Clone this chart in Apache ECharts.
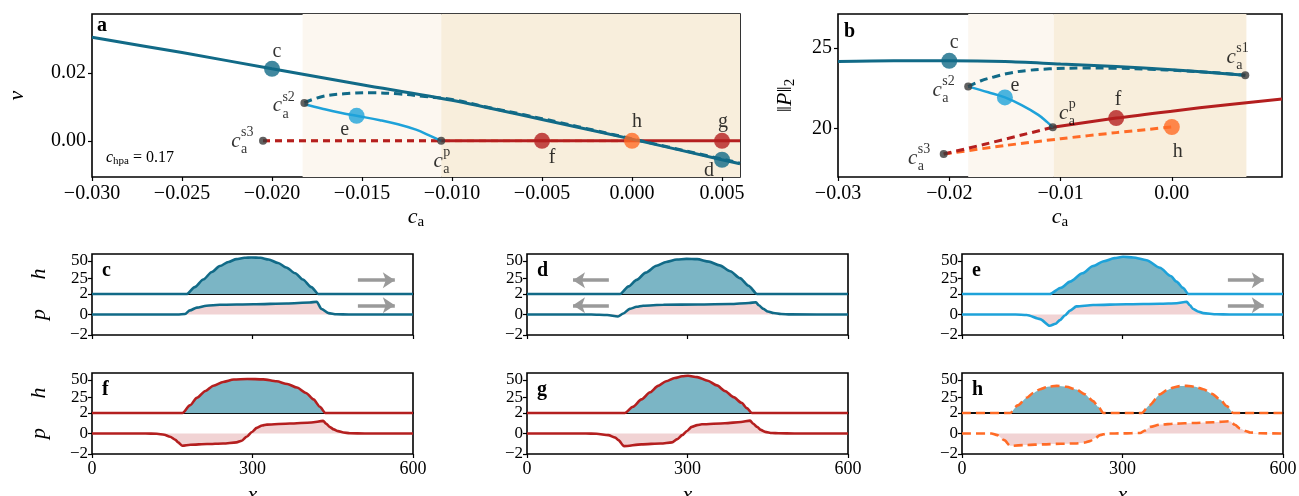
<!DOCTYPE html>
<html>
<head>
<meta charset="utf-8">
<script src="https://cdn.jsdelivr.net/npm/echarts@6/dist/echarts.min.js"></script>
<style>
  html, body { margin: 0; padding: 0; background: #fff; }
  #main { width: 1299px; height: 496px; }
</style>
</head>
<body>
<div id="main"></div>
<script>
// 字体与配色
const SERIF = '"Liberation Serif", "DejaVu Serif", serif';
const TEAL = '#116a87', LBLUE = '#1ea2d9', RED = '#b41f1f', ORANGE = '#ff6b26', DOT = '#3a3a3a';
const FILL_H = '#7bb5c5', FILL_P = '#f1d3d4', SHADE_L = '#fcf7f0', SHADE_D = '#f8eedc', ARROW = '#9a9a9a';

// ---- 图 a：v 随 c_a 的分岔 ----
const aMainCa = [-0.030, -0.025, -0.020, -0.015, -0.010, -0.005, 0.000, 0.005, 0.006];
const aMainV = [0.0306, 0.0261, 0.0213, 0.0166, 0.0120, 0.0063, 0.0005, -0.0056, -0.0068];
const aDashCa = [-0.0182, -0.0172, -0.016, -0.0145, -0.013, -0.0115, -0.010, -0.008, -0.006, -0.004, -0.002, 0.000, 0.002, 0.004, 0.006];
const aDashV = [0.0113, 0.0131, 0.0139, 0.0142, 0.0139, 0.0131, 0.0122, 0.0099, 0.0077, 0.0054, 0.0030, 0.0006, -0.0018, -0.0042, -0.0066];
const aECa = [-0.0182, -0.0172, -0.0162, -0.0153, -0.014, -0.013, -0.012, -0.0113, -0.0106];
const aEV = [0.0108, 0.0095, 0.0083, 0.0074, 0.0061, 0.0049, 0.0033, 0.0017, 0.0];
const aRedDashCa = [-0.0205, -0.0106];
const aRedCa = [-0.0106, 0.006];
const aOrangeCa = [-0.0205, 0.0];

// ---- 图 b：||P||_2 随 c_a ----
const bMainCa = [-0.03, -0.025, -0.02, -0.015, -0.01, -0.005, 0.0, 0.004, 0.0066];
const bMainP = [24.15, 24.2, 24.2, 24.15, 24.0, 23.85, 23.65, 23.45, 23.3];
const bDashCa = [-0.0183, -0.0172, -0.016, -0.0145, -0.013, -0.011, -0.008, -0.005, -0.002, 0.001, 0.004, 0.0066];
const bDashP = [22.6, 22.95, 23.2, 23.45, 23.6, 23.7, 23.75, 23.74, 23.68, 23.58, 23.46, 23.3];
const bECa = [-0.0183, -0.0165, -0.015, -0.0135, -0.012, -0.0112, -0.0107];
const bEP = [22.6, 22.25, 21.93, 21.45, 20.85, 20.4, 20.08];
const bRedCa = [-0.0107, -0.005, 0.0, 0.005, 0.0099];
const bRedP = [20.08, 20.65, 21.08, 21.48, 21.83];
const bRedDashCa = [-0.0205, -0.017, -0.0135, -0.0107];
const bRedDashP = [18.42, 19.0, 19.6, 20.08];
const bOrangeCa = [-0.0205, -0.015, -0.01, -0.005, 0.0];
const bOrangeP = [18.42, 18.95, 19.37, 19.75, 20.1];

// 阴影区边界 (c_a)
const shadeEdges = [-0.0183, -0.0106, 0.0067];

// 特殊点
const ptsA = { s3: [-0.0205, 0], s2: [-0.0182, 0.0112], p: [-0.0106, 0],
  c: [-0.020, 0.0213], e: [-0.0153, 0.0074], f: [-0.005, 0], h: [0.0, 0], g: [0.005, 0], d: [0.005, -0.0056] };
const ptsB = { s1: [0.0066, 23.3], s2: [-0.0183, 22.6], p: [-0.0107, 20.08], s3: [-0.0205, 18.42],
  c: [-0.020, 24.2], e: [-0.015, 21.93], f: [-0.005, 20.65], h: [0.0, 20.1] };

// ---- 小图：h(x) 与 p(x) 剖面 ----
const cH = [[0,2],[177,2],[192,12],[208,23],[224,34],[239,42.5],[255,48.5],[270,52.5],[285,54.5],[298,55],[315,54.5],[330,52],[348,47],[363,40.5],[380,32],[394,23],[410,12],[423,2],[600,2]];
const cP = [[0,0],[160,0],[174,0.05],[183,0.4],[196,0.67],[214,0.86],[239,0.95],[302,1.0],[364,1.08],[407,1.17],[420,1.24],[429,0.54],[442,0.13],[457,0.02],[480,0],[600,0]];
const dH = [[0,2],[174,2],[190,13],[205,22.5],[222,33],[242,43],[260,48.5],[280,52],[298,53],[318,52.5],[340,49],[360,43.5],[380,35],[398,25],[414,14],[430,2],[600,2]];
const dP = [[0,0],[120,0],[150,-0.05],[170,-0.2],[180,0.1],[192,0.55],[205,0.75],[217,0.86],[255,0.95],[320,0.98],[380,1.02],[415,1.12],[428,1.2],[433,0.9],[442,0.55],[450,0.3],[461,0.15],[475,0.05],[492,0.01],[600,0]];
const eH = [[0,2],[164,2],[185,11],[202,20],[225,32],[245,42.5],[265,49.5],[285,54],[301,56],[320,55],[345,51],[370,40],[390,28],[401,20],[413,11],[423,2],[600,2]];
const eP = [[0,0],[100,0],[121,-0.05],[146,-0.45],[164,-1.1],[175,-0.9],[183,-0.55],[192,-0.1],[202,0.38],[214,0.79],[245,0.92],[307,1.0],[370,1.05],[401,1.1],[420,1.24],[426,0.9],[432,0.54],[441,0.3],[451,0.13],[476,0.02],[500,0],[600,0]];
const fH = [[0,2],[169,2],[183,13],[196,24],[212,34],[227,41.5],[245,47],[265,50.5],[290,51.3],[320,50.8],[345,48],[365,44],[383,39],[400,31],[414,21.7],[426,11],[436,2],[600,2]];
const fP = [[0,0],[100,0],[121,-0.03],[135,-0.12],[146,-0.32],[156,-0.62],[161,-0.87],[169,-1.2],[184,-1.1],[215,-1.03],[245,-0.97],[270,-0.87],[280,-0.7],[289,-0.32],[299,0.15],[308,0.55],[318,0.78],[327,0.87],[370,0.97],[410,1.08],[432,1.23],[438,0.95],[444,0.65],[452,0.4],[460,0.23],[470,0.1],[482,0.02],[510,0],[600,0]];
const gH = [[0,2],[183,2],[198,11],[214,21.7],[230,32],[245,41.4],[260,48],[276,52.8],[290,55.2],[301,56],[318,54],[338,48.8],[355,42],[370,34],[386,25],[401,16.8],[411,9],[420,2],[600,2]];
const gP = [[0,0],[110,0],[130,-0.03],[152,-0.16],[165,-0.4],[171,-0.65],[181,-1.23],[214,-1.06],[250,-0.97],[271,-0.87],[281,-0.55],[290,-0.16],[299,0.25],[308,0.65],[318,0.82],[327,0.9],[370,1.0],[400,1.12],[417,1.26],[423,0.95],[430,0.65],[437,0.35],[445,0.16],[458,0.05],[470,0.02],[500,0],[600,0]];
const hH = [[0,2],[90,2],[104,13],[121,24.2],[133,31],[146,36.5],[160,40],[177,41.4],[195,40],[214,36],[230,29],[245,19.2],[255,11],[264,2],[336,2],[350,13],[370,29],[383,35],[395,38.8],[407,41],[420,41.4],[436,40],[451,36.5],[467,30],[482,21.7],[495,12],[507,2],[600,2]];
const hP = [[0,0],[55,0],[66,-0.16],[79,-0.65],[90,-1.2],[120,-1.12],[152,-1.06],[185,-1.0],[214,-0.97],[230,-0.88],[239,-0.74],[249,-0.45],[258,-0.16],[271,0],[300,0.01],[333,0.05],[342,0.3],[352,0.65],[370,0.87],[400,0.96],[433,1.03],[470,1.1],[501,1.2],[510,0.85],[520,0.48],[530,0.25],[539,0.1],[558,0.02],[600,0]];

// 移动方向箭头: [x起点, x终点, h高度, p高度]
const arrowC = [497, 566, 22, 0.9];
const arrowD = [153, 86, 22, 0.9];
const arrowE = [497, 564, 22, 0.9];

const zip = (xs, ys) => xs.map((x, i) => [x, ys[i]]);
const flat = (xs, v) => xs.map(x => [x, v]);
const minus = s => s.replace('-', '\u2212');

const RICH = {
  it: { fontFamily: SERIF, fontStyle: 'italic', fontSize: 21, color: '#000' },
  sm: { fontFamily: SERIF, fontSize: 14, color: '#000' },
  rm: { fontFamily: SERIF, fontSize: 20, color: '#000' }
};

const grid = [], xAxis = [], yAxis = [], series = [], graphic = [];

function addGrid(g) {
  // v6 默认会把网格缩进以容纳标签，这里关掉，按像素摆放
  grid.push(Object.assign({ show: true, borderColor: '#000', borderWidth: 1.6, backgroundColor: 'transparent',
    containLabel: false, outerBoundsMode: 'none' }, g));
  return grid.length - 1;
}

function axis(gi, o) {
  return {
    gridIndex: gi, type: 'value', min: o.min, max: o.max, interval: o.interval,
    axisLine: { show: false, onZero: false },
    axisTick: { show: o.tick !== false, length: 4, lineStyle: { color: '#000', width: 1.2 }, customValues: o.custom },
    axisLabel: { show: o.label !== false, color: '#000', fontFamily: SERIF, fontSize: o.fs || 20, margin: o.margin || 6,
      formatter: o.fmt, customValues: o.custom, hideOverlap: false },
    splitLine: { show: false },
    name: o.name || '', nameLocation: 'middle', nameGap: o.nameGap || 30,
    nameTextStyle: { fontFamily: SERIF, fontSize: 21, color: '#000', rich: {
      it: { fontFamily: SERIF, fontStyle: 'italic', fontSize: 22, color: '#000', lineHeight: 26 },
      rm: { fontFamily: SERIF, fontSize: 22, color: '#000', lineHeight: 26 },
      sb: { fontFamily: SERIF, fontSize: 15, color: '#000', lineHeight: 12, verticalAlign: 'bottom' } } }
  };
}

function line(gi, data, color, o) {
  return Object.assign({
    type: 'line', xAxisIndex: gi, yAxisIndex: gi, data: data, symbol: 'none', showSymbol: false,
    lineStyle: { color: color, width: 3, type: 'solid' }, itemStyle: { color: color },
    silent: true, animation: false, z: 3
  }, o || {});
}

function markers(gi, items, size, z) {
  return {
    type: 'scatter', xAxisIndex: gi, yAxisIndex: gi, symbolSize: size, silent: true, animation: false, z: z,
    data: items.map(it => ({ value: it[0], itemStyle: { color: it[1] } }))
  };
}

// 文字标注：锚定在数据点上，dx/dy 为像素偏移
function texts(gi, items) {
  return {
    type: 'scatter', xAxisIndex: gi, yAxisIndex: gi, symbolSize: 2, itemStyle: { color: 'rgba(0,0,0,0)' },
    silent: true, animation: false, z: 20, clip: false,
    labelLayout: { hideOverlap: false },
    data: items.map(it => ({
      value: it.v,
      label: { show: true, position: [it.dx, it.dy], align: it.align || 'center', verticalAlign: 'middle',
        formatter: () => it.t, rich: RICH }
    }))
  };
}

// c_a^{上标} 标签
function caLabel(v, sup, dx, dy) {
  return [
    { v: v, t: '{it|c}', dx: dx, dy: dy },
    { v: v, t: '{sm|' + sup + '}', dx: dx + 5, dy: dy - 9, align: 'left' },
    { v: v, t: '{sm|a}', dx: dx + 5, dy: dy + 8, align: 'left' }
  ];
}

// ---------- 图 a ----------
const gA = addGrid({ left: 92, top: 14, width: 648, height: 163 });
xAxis.push(axis(gA, { min: -0.030, max: 0.006, interval: 0.005, fmt: v => minus(v.toFixed(3)),
  name: '{it|c}{sb|a}', nameGap: 27, margin: 7 }));
yAxis.push(axis(gA, { min: -0.0107, max: 0.0375, custom: [0, 0.02], fmt: v => minus(v.toFixed(2)),
  name: '{it|v}', nameGap: 62 }));

series.push(line(gA, [], TEAL, {
  markArea: { silent: true, data: [
    [{ xAxis: shadeEdges[0], itemStyle: { color: SHADE_L } }, { xAxis: shadeEdges[1] }],
    [{ xAxis: shadeEdges[1], itemStyle: { color: SHADE_D } }, { xAxis: Math.min(shadeEdges[2], 0.006) }]
  ] }, z: 1
}));
series.push(line(gA, flat(aOrangeCa, 0), ORANGE, { lineStyle: { color: ORANGE, width: 3, type: [7, 5], opacity: 0.55 }, z: 2 }));
series.push(line(gA, flat(aRedCa, 0), RED, { z: 3 }));
series.push(line(gA, flat(aRedDashCa, 0), RED, { lineStyle: { color: RED, width: 3, type: [7, 5] }, z: 3 }));
series.push(line(gA, zip(aDashCa, aDashV), TEAL, { smooth: 0.4, lineStyle: { color: TEAL, width: 3, type: [8, 5] }, z: 3 }));
series.push(line(gA, zip(aMainCa, aMainV), TEAL, { smooth: 0.3, z: 4 }));
series.push(line(gA, zip(aECa, aEV), LBLUE, { smooth: 0.4, lineStyle: { color: LBLUE, width: 2.5 }, z: 4 }));
series.push(markers(gA, [[ptsA.c, TEAL], [ptsA.e, LBLUE], [ptsA.f, RED], [ptsA.h, ORANGE], [ptsA.g, RED], [ptsA.d, TEAL]], 16, 6));
series.push(markers(gA, [[ptsA.s3, DOT], [ptsA.s2, DOT], [ptsA.p, DOT]], 8, 7));
series.push(texts(gA, [
  { v: ptsA.c, t: '{rm|c}', dx: 6, dy: -16 },
  { v: ptsA.e, t: '{rm|e}', dx: -11, dy: 15 },
  { v: ptsA.h, t: '{rm|h}', dx: 6, dy: -18 },
  { v: ptsA.g, t: '{rm|g}', dx: 2, dy: -18 },
  { v: ptsA.f, t: '{rm|f}', dx: 11, dy: 18 },
  { v: ptsA.d, t: '{rm|d}', dx: -12, dy: 12 },
  ...caLabel(ptsA.s3, 's3', -26, 2),
  ...caLabel(ptsA.s2, 's2', -26, 4),
  ...caLabel(ptsA.p, 'p', -2, 22)
]));

// ---------- 图 b ----------
const gB = addGrid({ left: 838, top: 14, width: 444, height: 163 });
xAxis.push(axis(gB, { min: -0.03, max: 0.0099, custom: [-0.03, -0.02, -0.01, 0], fmt: v => minus(v.toFixed(2)),
  name: '{it|c}{sb|a}', nameGap: 27, margin: 7 }));
yAxis.push(axis(gB, { min: 17.0, max: 27.1, custom: [20, 25], fmt: v => String(v),
  name: '{rm|\u2016}{it|P}{rm|\u2016}{sb|2}', nameGap: 40 }));

series.push(line(gB, [], TEAL, {
  markArea: { silent: true, data: [
    [{ xAxis: shadeEdges[0], itemStyle: { color: SHADE_L } }, { xAxis: shadeEdges[1] }],
    [{ xAxis: shadeEdges[1], itemStyle: { color: SHADE_D } }, { xAxis: shadeEdges[2] }]
  ] }, z: 1
}));
series.push(line(gB, zip(bOrangeCa, bOrangeP), ORANGE, { smooth: 0.3, lineStyle: { color: ORANGE, width: 3, type: [8, 5] } }));
series.push(line(gB, zip(bRedDashCa, bRedDashP), RED, { smooth: 0.3, lineStyle: { color: RED, width: 3, type: [8, 5] } }));
series.push(line(gB, zip(bRedCa, bRedP), RED, { smooth: 0.3 }));
series.push(line(gB, zip(bDashCa, bDashP), TEAL, { smooth: 0.4, lineStyle: { color: TEAL, width: 3, type: [8, 5] } }));
series.push(line(gB, zip(bMainCa, bMainP), TEAL, { smooth: 0.3, z: 4 }));
series.push(line(gB, zip(bECa, bEP), LBLUE, { smooth: 0.4, lineStyle: { color: LBLUE, width: 2.5 }, z: 4 }));
series.push(markers(gB, [[ptsB.c, TEAL], [ptsB.e, LBLUE], [ptsB.f, RED], [ptsB.h, ORANGE]], 16, 6));
series.push(markers(gB, [[ptsB.s1, DOT], [ptsB.s2, DOT], [ptsB.p, DOT], [ptsB.s3, DOT]], 8, 7));
series.push(texts(gB, [
  { v: ptsB.c, t: '{rm|c}', dx: 6, dy: -17 },
  { v: ptsB.e, t: '{rm|e}', dx: 11, dy: -11 },
  { v: ptsB.f, t: '{rm|f}', dx: 3, dy: -17 },
  { v: ptsB.h, t: '{rm|h}', dx: 7, dy: 26 },
  ...caLabel(ptsB.s1, 's1', -13, -17),
  ...caLabel(ptsB.s2, 's2', -30, 5),
  ...caLabel(ptsB.s3, 's3', -30, 5),
  ...caLabel(ptsB.p, 'p', 12, -13)
]));

// ---------- 小图 c–h ----------
const panels = [
  { key: 'c', h: cH, p: cP, color: TEAL, dashed: false, arrow: arrowC },
  { key: 'd', h: dH, p: dP, color: TEAL, dashed: false, arrow: arrowD },
  { key: 'e', h: eH, p: eP, color: LBLUE, dashed: false, arrow: arrowE },
  { key: 'f', h: fH, p: fP, color: RED, dashed: false },
  { key: 'g', h: gH, p: gP, color: RED, dashed: false },
  { key: 'h', h: hH, p: hP, color: ORANGE, dashed: true }
];
const colLeft = [92, 527, 962], rowTop = [254, 373], pw = 321, hh = 40, ph = 41;

panels.forEach((pn, k) => {
  const r = Math.floor(k / 3), c = k % 3;
  const left = colLeft[c], top = rowTop[r];
  const gh = addGrid({ left: left, top: top, width: pw, height: hh });
  const gp = addGrid({ left: left, top: top + hh, width: pw, height: ph });

  xAxis.push(axis(gh, { min: 0, max: 600, interval: 300, tick: false, label: false }));
  yAxis.push(axis(gh, { min: 2, max: 60, custom: [25, 50], fs: 17, margin: 4, fmt: v => String(v),
    name: c === 0 ? '{it|h}' : '', nameGap: 40 }));
  xAxis.push(axis(gp, { min: 0, max: 600, interval: 300, label: r === 1, fs: 18, margin: 6, fmt: v => String(v),
    name: r === 1 ? '{it|x}' : '', nameGap: 28 }));
  yAxis.push(axis(gp, { min: -2, max: 2, interval: 2, fs: 17, margin: 4, fmt: v => minus(String(v)),
    name: c === 0 ? '{it|p}' : '', nameGap: 40 }));

  const lt = pn.dashed ? [9, 5] : 'solid';
  const hs = line(gh, pn.h, pn.color, { smooth: 0.25, smoothMonotone: 'x', clip: false,
    lineStyle: { color: pn.color, width: 2.6, type: lt }, areaStyle: { color: FILL_H, opacity: 1, origin: 'start' } });
  const ps = line(gp, pn.p, pn.color, { smooth: 0.25, smoothMonotone: 'x', clip: false,
    lineStyle: { color: pn.color, width: 2.6, type: lt }, areaStyle: { color: FILL_P, opacity: 1, origin: 'auto' } });
  if (pn.arrow) {
    const a = pn.arrow;
    const ml = v => ({ silent: true, symbol: ['none', 'arrow'], symbolSize: [12, 12], animation: false,
      label: { show: false }, lineStyle: { color: ARROW, width: 3.5, type: 'solid' },
      data: [[{ coord: [a[0], v] }, { coord: [a[1], v] }]] });
    hs.markLine = ml(a[2]);
    ps.markLine = ml(a[3]);
  }
  series.push(hs, ps);

  graphic.push({ type: 'text', left: left + 10, top: top + 7, silent: true,
    style: { text: pn.key, font: 'bold 20px ' + SERIF, fill: '#000' } });
});

// 面板字母与区域说明
graphic.push({ type: 'text', left: 97, top: 16, silent: true, style: { text: 'a', font: 'bold 20px ' + SERIF, fill: '#000' } });
graphic.push({ type: 'text', left: 844, top: 22, silent: true, style: { text: 'b', font: 'bold 20px ' + SERIF, fill: '#000' } });
graphic.push({ type: 'text', left: 525, top: 30, silent: true, style: { text: 'moving and resting', font: '16px ' + SERIF, fill: '#222' } });
graphic.push({ type: 'text', left: 1062, top: 20, silent: true, style: { text: 'moving and resting', font: '16px ' + SERIF, fill: '#222' } });
graphic.push({ type: 'text', left: 106, top: 150, silent: true, style: {
  text: '{sit|c}{ssm|hpa}{tx| = 0.17}', rich: {
    sit: { fontFamily: SERIF, fontStyle: 'italic', fontSize: 16, fill: '#000', lineHeight: 18 },
    ssm: { fontFamily: SERIF, fontSize: 11, fill: '#000', lineHeight: 10, verticalAlign: 'bottom' },
    tx: { fontFamily: SERIF, fontSize: 16, fill: '#000', lineHeight: 18 } } } });

const chart = echarts.init(document.getElementById('main'));
chart.setOption({ animation: false, backgroundColor: '#fff', grid, xAxis, yAxis, series, graphic });
</script>
</body>
</html>
